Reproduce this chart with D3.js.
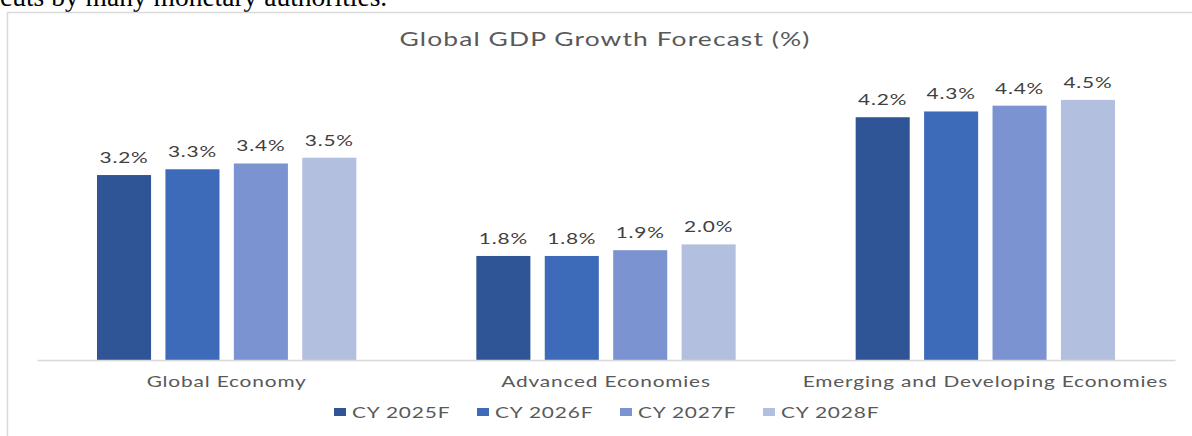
<!DOCTYPE html>
<html>
  <head>
    <title>Global GDP Growth Forecast</title>
    <meta charset="utf-8" />
    <style>
      body { margin: 0; background: #fff; }
    </style>
  </head>
  <body>
    <div id="chart"></div>
    <script src="https://d3js.org/d3.v7.min.js"></script>
    <script type="text/javascript">
        const categories = ["Global Economy", "Advanced Economies", "Emerging and Developing Economies"];
        const seriesNames = ["CY 2025F", "CY 2026F", "CY 2027F", "CY 2028F"];
        const cy2025 = [3.2, 1.8, 4.2];
        const cy2026 = [3.3, 1.8, 4.3];
        const cy2027 = [3.4, 1.9, 4.4];
        const cy2028 = [3.5, 2.0, 4.5];
        const series = [cy2025, cy2026, cy2027, cy2028];
        const colors = ["#2f5597", "#3e6bb9", "#7b93d0", "#b2bfdf"];

        const width = 1192;
        const height = 436;
        const margin = {top: 71, right: 17, bottom: 74, left: 37};
        const font = "Lato, 'Open Sans', sans-serif";
        const stretch = 1.39; // the source image is stretched sideways

        const svg = d3.select("#chart")
            .append("svg")
            .attr("width", width)
            .attr("height", height)
            .style("display", "block");

        // tail of the paragraph above the chart, cut at the top
        svg.append("text")
            .attr("x", 0)
            .attr("y", 6)
            .attr("font-family", "'Liberation Serif', serif")
            .attr("font-size", 27.5)
            .attr("fill", "#000")
            .text("cuts by many monetary authorities.");

        // chart frame (left and top edges visible)
        svg.append("path")
            .attr("d", `M7.5,${height}V12.5H${width}`)
            .attr("fill", "none")
            .attr("stroke", "#d9d9d9")
            .attr("stroke-width", 1.5);

        const x0 = d3.scaleBand()
            .domain(categories)
            .range([margin.left, width - margin.right]);

        const x1 = d3.scaleBand()
            .domain(seriesNames)
            .range([60, x0.bandwidth() - 60])
            .paddingInner(0.21);

        const y = d3.scaleLinear()
            .domain([0, 5])
            .range([height - margin.bottom - 2, margin.top]);

        svg.append("text")
            .attr("transform", `translate(${width / 2 + 9},46) scale(${stretch},1)`)
            .attr("text-anchor", "middle")
            .attr("font-family", font)
            .attr("font-size", 19)
            .attr("letter-spacing", 0.8)
            .attr("fill", "#595959")
            .text("Global GDP Growth Forecast (%)");

        const groups = svg.append("g")
            .selectAll("g")
            .data(categories)
            .join("g")
            .attr("transform", d => `translate(${x0(d)},0)`);

        groups.selectAll("rect")
            .data((c, i) => seriesNames.map((s, j) => ({s, j, v: series[j][i]})))
            .join("rect")
            .attr("x", d => x1(d.s))
            .attr("width", x1.bandwidth())
            .attr("y", d => y(d.v))
            .attr("height", d => y(0) - y(d.v))
            .attr("fill", d => colors[d.j]);

        groups.selectAll("text")
            .data((c, i) => seriesNames.map((s, j) => ({s, j, v: series[j][i]})))
            .join("text")
            .attr("transform", d => `translate(${x1(d.s) + x1.bandwidth() / 2},${y(d.v) - 12}) scale(${stretch},1)`)
            .attr("text-anchor", "middle")
            .attr("font-family", font)
            .attr("font-size", 15)
            .attr("letter-spacing", 0.6)
            .attr("fill", "#404040")
            .text(d => d.v.toFixed(1) + "%");

        const xAxis = svg.append("g")
            .attr("transform", `translate(0,${y(0)})`)
            .call(d3.axisBottom(x0).tickSize(0).tickPadding(16));
        xAxis.select(".domain").attr("stroke", "#d9d9d9").attr("stroke-width", 1.5);
        xAxis.selectAll("text")
            .attr("transform", `scale(${stretch},1)`)
            .attr("font-family", font)
            .attr("font-size", 15)
            .attr("letter-spacing", 0.6)
            .attr("fill", "#595959");

        const lx = d3.scaleBand()
            .domain(seriesNames)
            .range([334, 906]);
        const legend = svg.append("g")
            .selectAll("g")
            .data(seriesNames)
            .join("g")
            .attr("transform", d => `translate(${lx(d)},412)`);
        legend.append("rect")
            .attr("x", 0)
            .attr("y", -4)
            .attr("width", 12)
            .attr("height", 8)
            .attr("fill", (d, i) => colors[i]);
        legend.append("text")
            .attr("transform", `translate(18,5.5) scale(${stretch},1)`)
            .attr("font-family", font)
            .attr("font-size", 15)
            .attr("letter-spacing", 0.6)
            .attr("fill", "#595959")
            .text(d => d);
    </script>
  </body>
</html>
